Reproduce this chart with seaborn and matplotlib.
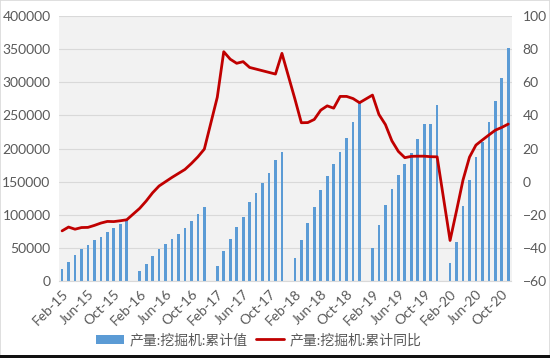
import matplotlib
matplotlib.use("Agg")
import matplotlib.pyplot as plt
from matplotlib.patches import Rectangle, Patch
from matplotlib.lines import Line2D
import numpy as np
import pandas as pd
import seaborn as sns

# ---- data (Feb..Dec each year; Jan has no data) ----
years = [2015, 2016, 2017, 2018, 2019, 2020]
prod_2015 = [17800, 29200, 40000, 48400, 54900, 62000, 66800, 74000, 79500, 86600, 91500]
prod_2016 = [15200, 25800, 37800, 48000, 56000, 63800, 71000, 80500, 90000, 101000, 112000]
prod_2017 = [23000, 45800, 64000, 81000, 96000, 119000, 132500, 147500, 163500, 182500, 194500]
prod_2018 = [34500, 62000, 88000, 112200, 137300, 158500, 176000, 194200, 216000, 240700, 270000]
prod_2019 = [50300, 84000, 114700, 138800, 160300, 176600, 192600, 213800, 237000, 237000, 265600]
prod_2020 = [27700, 59200, 112700, 152900, 187600, 210300, 239900, 271800, 306800, 351100]

yoy_2015 = [-29.7, -27.4, -28.7, -27.7, -27.6, -26.4, -25.0, -24.0, -24.1, -23.6, -23.0]
yoy_2016 = [-16.1, -11.7, -6.7, -2.6, 0.0, 2.6, 5.0, 7.4, 11.0, 15.0, 19.7]
yoy_2017 = [51.0, 78.5, 74.0, 71.5, 72.5, 69.0, 68.0, 67.0, 66.0, 65.0, 77.5]
yoy_2018 = [50.0, 35.6, 35.7, 37.6, 43.2, 45.8, 44.4, 51.5, 51.5, 50.2, 47.7]
yoy_2019 = [52.3, 40.6, 34.5, 24.7, 18.3, 14.5, 15.3, 15.4, 15.4, 15.1, 15.0]
yoy_2020 = [-35.5, -17.5, 1.0, 14.8, 22.1, 25.2, 28.2, 31.1, 32.8, 34.8]

series_label_bar = "产量:挖掘机:累计值"
series_label_line = "产量:挖掘机:累计同比"
month_names = ["Jan", "Feb", "Mar", "Apr", "May", "Jun", "Jul", "Aug", "Sep", "Oct", "Nov", "Dec"]

prods = [prod_2015, prod_2016, prod_2017, prod_2018, prod_2019, prod_2020]
yoys = [yoy_2015, yoy_2016, yoy_2017, yoy_2018, yoy_2019, yoy_2020]

labels, prod_vals, yoy_vals = [], [], []
for y, p, r in zip(years, prods, yoys):
    start = 1 if y == years[0] else 0
    for m in range(start, 12):
        if m == 0:
            pv, rv = np.nan, np.nan
        else:
            k = m - 1
            if k >= len(p):
                break
            pv, rv = p[k], r[k]
        labels.append(f"{month_names[m]}-{str(y)[2:]}")
        prod_vals.append(pv)
        yoy_vals.append(rv)

df = pd.DataFrame({"label": labels, "prod": prod_vals, "yoy": yoy_vals})
df["pos"] = np.arange(len(df))
n = len(df)

# ---- style ----
sns.set_style("white")
plt.rcParams["font.family"] = ["Lato", "Noto Sans CJK SC", "DejaVu Sans"]
grey = "#595959"

fig, ax = plt.subplots(figsize=(5.5, 3.58), dpi=100)
fig.subplots_adjust(left=0.107, right=0.930, top=0.955, bottom=0.215)
ax.set_facecolor("#f2f2f2")

bars = df.dropna(subset=["prod"])
sns.barplot(data=bars, x="label", y="prod", order=labels, color="#5b9bd5",
            saturation=1, width=0.42, errorbar=None, linewidth=0, ax=ax)
for p in ax.patches:
    p.set_snap(True)

ax2 = ax.twinx()
line = df.dropna(subset=["yoy"])
sns.lineplot(data=line, x="pos", y="yoy", color="#c00000", lw=2, ax=ax2)

ax.set_xlim(-0.5, n - 0.5)
ax.set_ylim(0, 400000)
ax.set_yticks(np.arange(0, 400001, 50000))
ax.set_yticklabels([f"{v:d}" for v in range(0, 400001, 50000)])
ax2.set_ylim(-60, 100)
ax2.set_yticks(np.arange(-60, 101, 20))

ax.yaxis.grid(True, color="#d9d9d9", lw=0.8)
ax.xaxis.grid(False)
ax.set_axisbelow(True)
ax2.grid(False)

tick_pos = list(range(0, n, 4))
ax.set_xticks(tick_pos)
ax.set_xticklabels([labels[i] for i in tick_pos], rotation=45, ha="right",
                   va="top", rotation_mode="anchor")
ax.set_xticks([i - 0.5 for i in tick_pos], minor=True)
ax.tick_params(axis="x", which="major", length=0, pad=5, labelsize=10, labelcolor=grey)
ax.tick_params(axis="x", which="minor", length=4, color="#bfbfbf", width=0.8)
ax.tick_params(axis="y", length=0, labelsize=10, labelcolor=grey, pad=6)
ax2.tick_params(axis="y", length=0, labelsize=10, labelcolor=grey, pad=8)

for a in (ax, ax2):
    for s in a.spines.values():
        s.set_visible(False)
    a.set_xlabel("")
    a.set_ylabel("")
ax.spines["bottom"].set_visible(True)
ax.spines["bottom"].set_color("#d9d9d9")

handles = [Patch(facecolor="#5b9bd5", edgecolor="none"),
           Line2D([0], [0], color="#c00000", lw=2)]
fig.legend(handles, [series_label_bar, series_label_line], loc="center",
           bbox_to_anchor=(0.47, 0.052), ncol=2, frameon=False, fontsize=10,
           handlelength=2.0, handletextpad=0.4, columnspacing=0.6,
           labelcolor=grey)

fig.patches.append(Rectangle((0, 0), 1, 1, transform=fig.transFigure, fill=False,
                             edgecolor="#d9d9d9", lw=1.2))
fig.patches.append(Rectangle((0, 0), 1, 3 / 358, transform=fig.transFigure,
                             facecolor="#111111", edgecolor="none"))

fig.savefig("out.png", dpi=100)
